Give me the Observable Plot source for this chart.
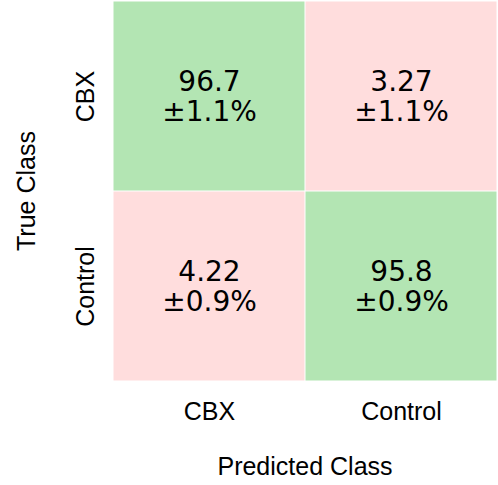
<!DOCTYPE html>
<html>
<head>
<meta charset="utf-8">
<script src="https://cdn.jsdelivr.net/npm/d3@7"></script>
<script src="https://cdn.jsdelivr.net/npm/@observablehq/plot@0.6"></script>
<style>
  html, body { margin: 0; padding: 0; background: #fff; }
</style>
</head>
<body>
<div id="chart"></div>
<script>
const classes = ["CBX", "Control"];
const trueClass = ["CBX", "CBX", "Control", "Control"];
const predictedClass = ["CBX", "Control", "CBX", "Control"];
const means = ["96.7", "3.27", "4.22", "95.8"];
const errors = ["±1.1%", "±1.1%", "±0.9%", "±0.9%"];
const correct = [true, false, false, true];

const cells = trueClass.map((t, i) => ({
  t, p: predictedClass[i], label: means[i] + "\n" + errors[i], ok: correct[i]
}));

const labelFont = "Liberation Sans, Arial, sans-serif";

const chart = Plot.plot({
  width: 498,
  height: 485,
  marginLeft: 112,
  marginRight: 1,
  marginTop: 0,
  marginBottom: 104,
  x: { domain: classes, padding: 0, axis: null },
  y: { domain: classes, padding: 0, axis: null },
  color: { domain: [true, false], range: ["#b3e5b3", "#ffdddd"] },
  style: { background: "#fff" },
  marks: [
    Plot.cell(cells, { x: "p", y: "t", fill: "ok", inset: 0.5 }),
    Plot.text(cells, {
      x: "p", y: "t", text: "label",
      fontSize: 28, fontFamily: "DejaVu Sans", fill: "#000", lineHeight: 1.07
    }),
    Plot.text(classes, {
      x: d => d, text: d => d, frameAnchor: "bottom", dy: 38,
      fontSize: 25, fontFamily: labelFont, fill: "#000"
    }),
    Plot.text(["Predicted Class"], {
      text: d => d, frameAnchor: "bottom", dy: 93,
      fontSize: 25, fontFamily: labelFont, fill: "#000"
    }),
    Plot.axisY({
      tickSize: 0, tickPadding: 19, tickRotate: -90,
      label: "True Class", labelAnchor: "center", labelOffset: 95, labelArrow: "none",
      fontSize: 25, fontFamily: labelFont, color: "#000"
    })
  ]
});

document.getElementById("chart").appendChild(chart);
</script>
</body>
</html>
